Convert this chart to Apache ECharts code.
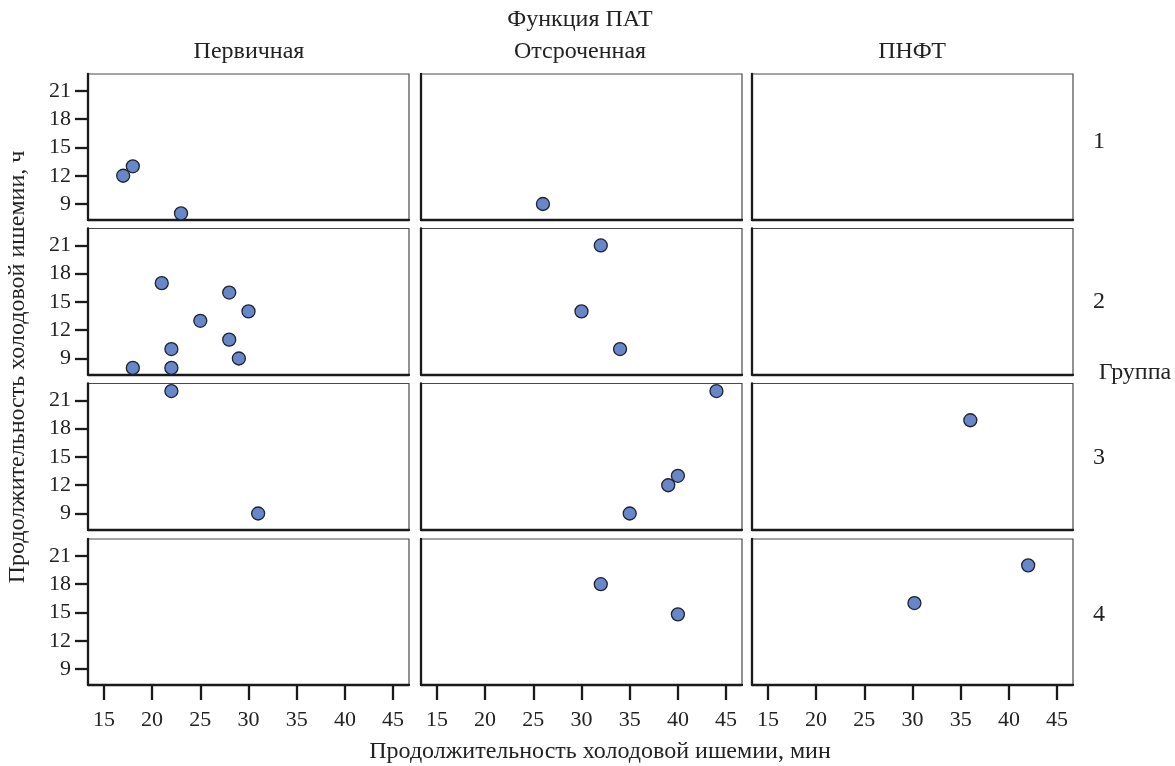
<!DOCTYPE html>
<html>
<head>
<meta charset="utf-8">
<script src="https://cdn.jsdelivr.net/npm/echarts@6/dist/echarts.min.js"></script>
<style>
  html, body { margin: 0; padding: 0; background: #fff; }
  #chart { width: 1175px; height: 766px; }
</style>
</head>
<body>
<div id="chart"></div>
<script>
// Facet labels
const funcNames = ['Первичная', 'Отсроченная', 'ПНФТ'];
const groupNames = ['1', '2', '3', '4'];
const xTicks = [15, 20, 25, 30, 35, 40, 45];
const yTicks = [9, 12, 15, 18, 21];

// [cold ischemia, min ; cold ischemia, h] per group and graft function
const g1Primary = [[17, 12], [18, 13], [23, 8]];
const g1Delayed = [[26, 9]];
const g1Pnft = [];
const g2Primary = [[21, 17], [28, 16], [30, 14], [25, 13], [28, 11], [22, 10], [29, 9], [18, 8], [22, 8]];
const g2Delayed = [[32, 21], [30, 14], [34, 10]];
const g2Pnft = [];
const g3Primary = [[22, 22], [31, 9]];
const g3Delayed = [[44, 22], [40, 13], [39, 12], [35, 9]];
const g3Pnft = [[36, 18.9]];
const g4Primary = [];
const g4Delayed = [[32, 18], [40, 14.8]];
const g4Pnft = [[30.2, 16], [42, 20]];

const panels = [
  [g1Primary, g1Delayed, g1Pnft],
  [g2Primary, g2Delayed, g2Pnft],
  [g3Primary, g3Delayed, g3Pnft],
  [g4Primary, g4Delayed, g4Pnft]
];

const FONT = '"Liberation Serif", "DejaVu Serif", serif';
const INK = '#1a1a1a';
const colLeft = [88, 421, 752];
const colWidth = 321;
const rowTop = [74, 228.5, 383.5, 539];
const rowHeight = 146;
const rowLabelY = [142, 302, 458, 615];

const grids = [], xAxes = [], yAxes = [], series = [];
let idx = 0;
for (let r = 0; r < 4; r++) {
  for (let c = 0; c < 3; c++) {
    grids.push({
      left: colLeft[c], top: rowTop[r], width: colWidth, height: rowHeight,
      show: true, borderColor: '#4a4a4a', borderWidth: 1.2, backgroundColor: '#fff'
    });
    const bottomRow = r === 3;
    const leftCol = c === 0;
    xAxes.push({
      type: 'value', gridIndex: idx, min: 13.35, max: 46.65,
      axisLine: { show: true, onZero: false, lineStyle: { color: INK, width: 2.3 } },
      axisTick: { show: bottomRow, customValues: xTicks, length: 15, lineStyle: { color: INK, width: 2.3 } },
      axisLabel: { show: bottomRow, customValues: xTicks, margin: 24, fontFamily: FONT, fontSize: 22, color: '#222' },
      splitLine: { show: false }
    });
    yAxes.push({
      type: 'value', gridIndex: idx, min: 7.3, max: 22.8,
      axisLine: { show: true, onZero: false, lineStyle: { color: INK, width: 2.3 } },
      axisTick: { show: leftCol, customValues: yTicks, length: 13, lineStyle: { color: INK, width: 2.3 } },
      axisLabel: { show: leftCol, customValues: yTicks, margin: 17, fontFamily: FONT, fontSize: 22, color: '#222' },
      splitLine: { show: false }
    });
    series.push({
      type: 'scatter', xAxisIndex: idx, yAxisIndex: idx,
      data: panels[r][c], symbol: 'circle', symbolSize: 13, clip: false,
      itemStyle: { color: '#6787c9', borderColor: '#1f2230', borderWidth: 1.3, opacity: 1 },
      emphasis: { disabled: true }
    });
    idx++;
  }
}

const txt = (x, y, s, extra) => Object.assign({
  type: 'text', x: x, y: y,
  style: { text: s, fontFamily: FONT, fontSize: 24, fill: '#222', align: 'center', verticalAlign: 'middle' }
}, extra || {});

const graphics = [
  txt(580, 20, 'Функция ПАТ'),
  txt(249, 52, funcNames[0]),
  txt(580, 52, funcNames[1]),
  txt(912, 52, funcNames[2]),
  txt(600, 752, 'Продолжительность холодовой ишемии, мин'),
  txt(18, 367, 'Продолжительность холодовой ишемии, ч', { rotation: Math.PI / 2 }),
  txt(1135, 373, 'Группа')
];
for (let r = 0; r < 4; r++) {
  graphics.push(txt(1099, rowLabelY[r], groupNames[r]));
}

const chart = echarts.init(document.getElementById('chart'), null, { renderer: 'canvas' });
chart.setOption({
  animation: false,
  backgroundColor: '#fff',
  grid: grids,
  xAxis: xAxes,
  yAxis: yAxes,
  series: series,
  graphic: graphics
});
</script>
</body>
</html>
